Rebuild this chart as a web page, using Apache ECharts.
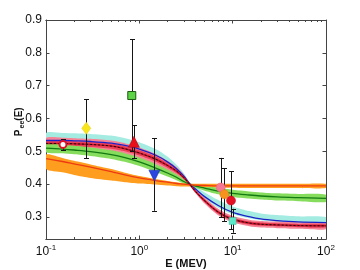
<!DOCTYPE html>
<html>
<head>
<meta charset="utf-8">
<script src="https://cdn.jsdelivr.net/npm/echarts@6/dist/echarts.min.js"></script>
<style>
html,body{margin:0;padding:0;background:#fff;}
#c{width:360px;height:270px;}
</style>
</head>
<body>
<div id="c"></div>
<script>
// ---------- data ----------
const energies = [0.1, 0.15, 0.2, 0.3, 0.5, 0.7, 1, 1.5, 2, 2.5, 3, 3.5, 4, 5, 7, 10, 15, 20, 30, 50, 100];

const redMid  = [0.524,0.524,0.523,0.521,0.516,0.508,0.495,0.476,0.457,0.440,0.420,0.398,0.378,0.350,0.315,0.293,0.282,0.278,0.276,0.274,0.273];
const redHi   = [0.541,0.541,0.540,0.538,0.533,0.525,0.512,0.492,0.471,0.452,0.429,0.402,0.384,0.359,0.325,0.303,0.292,0.288,0.286,0.284,0.283];
const redLo   = [0.507,0.507,0.506,0.504,0.499,0.491,0.478,0.460,0.443,0.428,0.411,0.394,0.372,0.341,0.305,0.283,0.272,0.268,0.266,0.264,0.263];
const redInHi = [0.532,0.532,0.531,0.529,0.524,0.516,0.503,0.484,0.464,0.446,0.424,0.400,0.381,0.354,0.320,0.298,0.287,0.283,0.281,0.279,0.278];
const redInLo = [0.516,0.516,0.515,0.513,0.508,0.500,0.487,0.468,0.450,0.434,0.416,0.396,0.375,0.346,0.310,0.288,0.277,0.273,0.271,0.269,0.268];

const blueMid = [0.533,0.533,0.532,0.530,0.525,0.518,0.507,0.488,0.468,0.447,0.424,0.400,0.385,0.362,0.335,0.314,0.301,0.294,0.289,0.285,0.283];
const cyanHi  = [0.556,0.556,0.555,0.553,0.548,0.540,0.528,0.507,0.484,0.459,0.433,0.404,0.393,0.375,0.352,0.332,0.318,0.311,0.306,0.302,0.300];
const cyanLo  = [0.511,0.511,0.510,0.508,0.503,0.497,0.487,0.470,0.452,0.435,0.415,0.396,0.379,0.355,0.328,0.308,0.296,0.290,0.285,0.282,0.280];

const greenMid = [0.510,0.507,0.504,0.499,0.490,0.481,0.468,0.449,0.434,0.421,0.408,0.399,0.394,0.388,0.379,0.372,0.367,0.364,0.361,0.359,0.357];
const greenHi  = [0.523,0.520,0.517,0.512,0.503,0.494,0.481,0.461,0.445,0.430,0.414,0.402,0.399,0.396,0.389,0.383,0.378,0.375,0.372,0.370,0.368];
const greenLo  = [0.497,0.494,0.491,0.486,0.477,0.468,0.455,0.437,0.423,0.412,0.402,0.396,0.389,0.380,0.369,0.361,0.356,0.353,0.350,0.348,0.346];

const orangeMid = [0.478,0.469,0.462,0.452,0.438,0.428,0.419,0.411,0.406,0.402,0.400,0.398,0.397,0.396,0.395,0.395,0.395,0.395,0.395,0.395,0.395];
const orangeHi  = [0.490,0.480,0.471,0.460,0.446,0.435,0.425,0.416,0.410,0.406,0.403,0.401,0.401,0.401,0.401,0.401,0.401,0.401,0.401,0.401,0.401];
const orangeLo  = [0.446,0.436,0.428,0.419,0.411,0.406,0.402,0.399,0.396,0.394,0.393,0.393,0.392,0.391,0.390,0.389,0.388,0.388,0.388,0.388,0.388];

// measured points: energy, value, error low, error high
const ptE    = [0.152, 0.27, 0.83, 0.875, 1.45, 7.45, 8.15, 9.6, 10.0];
const ptVal  = [0.521, 0.570, 0.670, 0.529, 0.426, 0.390, 0.369, 0.350, 0.288];
const ptLo   = [0.505, 0.479, 0.500, 0.479, 0.319, 0.299, 0.288, 0.262, 0.252];
const ptHi   = [0.537, 0.659, 0.841, 0.579, 0.540, 0.480, 0.448, 0.439, 0.325];

const yTicks = [0.3, 0.4, 0.5, 0.6, 0.7, 0.8, 0.9];
const xMajor = [0.1, 1, 10, 100];
const xMinor = [0.2,0.3,0.4,0.5,0.6,0.7,0.8,0.9,2,3,4,5,6,7,8,9,20,30,40,50,60,70,80,90];
const xTitle = 'E (MEV)';

// ---------- styles ----------
const ptStyle = [
  {symbol:'circle', size:7, color:'#ffffff', border:'#e0102a', bw:2, rot:0},
  {symbol:'diamond', size:[9,12], color:'#f8e61c', border:'#e8c800', bw:0.5, rot:0},
  {symbol:'rect', size:8, color:'#5cd446', border:'#1c5a10', bw:1, rot:0},
  {symbol:'triangle', size:11, color:'#e8101a', border:'#b00010', bw:0.5, rot:0},
  {symbol:'triangle', size:11, color:'#2a46e0', border:'#1a2ab0', bw:0.5, rot:180},
  {symbol:'circle', size:9, color:'#f47896', border:'#e86080', bw:0.5, rot:0},
  {symbol:'circle', size:9, color:'#f8921e', border:'#e07a10', bw:0.5, rot:0},
  {symbol:'circle', size:9, color:'#e41024', border:'#b0001a', bw:0.5, rot:0},
  {symbol:'rect', size:7, color:'#5ae8c8', border:'#30b898', bw:0.5, rot:0}
];

const FONT = 'Liberation Sans, Arial, Helvetica, sans-serif';
const AXC = '#444';

function bandSeries(hi, lo, color, z) {
  const rows = energies.map((e, i) => [e, lo[i], hi[i]]);
  return {
    type: 'custom', xAxisIndex: 0, yAxisIndex: 0, z: z, clip: true, silent: true,
    data: rows,
    encode: {x: 0, y: [1, 2]},
    renderItem: function (params, api) {
      if (params.dataIndex !== 0) return null;
      const pts = [];
      for (let i = 0; i < rows.length; i++) pts.push(api.coord([rows[i][0], rows[i][2]]));
      for (let i = rows.length - 1; i >= 0; i--) pts.push(api.coord([rows[i][0], rows[i][1]]));
      return {type: 'polygon', shape: {points: pts, smooth: 0.25}, style: {fill: color, stroke: null}};
    }
  };
}
function lineSeries(vals, color, width, z, dash) {
  return {
    type: 'line', xAxisIndex: 0, yAxisIndex: 0, z: z, smooth: 0.35, showSymbol: false, silent: true,
    data: energies.map((e, i) => [e, vals[i]]),
    lineStyle: {color: color, width: width, type: dash || 'solid'}
  };
}

const errRows = ptE.map((e, i) => [e, ptVal[i], ptLo[i], ptHi[i]]);
const errSeries = {
  type: 'custom', xAxisIndex: 0, yAxisIndex: 0, z: 20, silent: true,
  data: errRows,
  encode: {x: 0, y: [1, 2, 3]},
  renderItem: function (params, api) {
    const x = api.value(0), lo = api.value(2), hi = api.value(3);
    const a = api.coord([x, hi]), b = api.coord([x, lo]);
    const px = Math.round(a[0]) + 0.5;
    const cw = 2.5;
    const st = {stroke: '#151515', lineWidth: 1};
    return {type: 'group', children: [
      {type: 'line', shape: {x1: px, y1: a[1], x2: px, y2: b[1]}, style: st},
      {type: 'line', shape: {x1: px - cw, y1: Math.round(a[1]) + 0.5, x2: px + cw, y2: Math.round(a[1]) + 0.5}, style: st},
      {type: 'line', shape: {x1: px - cw, y1: Math.round(b[1]) + 0.5, x2: px + cw, y2: Math.round(b[1]) + 0.5}, style: st}
    ]};
  }
};
const markerSeries = {
  type: 'scatter', xAxisIndex: 0, yAxisIndex: 0, z: 30, silent: true,
  data: ptE.map((e, i) => ({
    value: [e, ptVal[i]],
    symbol: ptStyle[i].symbol, symbolSize: ptStyle[i].size, symbolRotate: ptStyle[i].rot,
    itemStyle: {color: ptStyle[i].color, borderColor: ptStyle[i].border, borderWidth: ptStyle[i].bw, opacity: 1}
  }))
};

const gridRect = {left: 46, right: 34, top: 20, bottom: 31};
function xAx(grid, pos, ticks, len, labels) {
  const ax = {
    type: 'log', logBase: 10, min: 0.1, max: 100, gridIndex: grid, position: pos,
    axisLine: {show: true, onZero: false, lineStyle: {color: AXC, width: 1}},
    axisTick: {show: true, inside: true, length: len, customValues: ticks, lineStyle: {color: AXC, width: 1}},
    axisLabel: {show: false},
    splitLine: {show: false}, minorTick: {show: false}
  };
  if (labels) {
    ax.axisLabel = {
      show: true, customValues: xMajor, margin: 5,
      formatter: function (v) { return '{b|10}{s|' + Math.round(Math.log10(v)) + '}'; },
      rich: {
        b: {fontSize: 12, fontFamily: FONT, color: '#111', lineHeight: 14},
        s: {fontSize: 8, fontFamily: FONT, color: '#111', padding: [0, 0, 8, 0]}
      }
    };
  }
  return ax;
}
function yAx(grid, pos, labels, show) {
  return {
    type: 'value', min: 0.233, max: 0.9, gridIndex: grid, position: pos, show: show,
    axisLine: {show: true, lineStyle: {color: AXC, width: 1}},
    axisTick: {show: true, inside: true, length: 3.5, customValues: yTicks, lineStyle: {color: AXC, width: 1}},
    axisLabel: labels ? {show: true, customValues: yTicks, margin: 4, fontSize: 12, fontFamily: FONT, color: '#111',
      formatter: v => v.toFixed(1)} : {show: false},
    splitLine: {show: false}
  };
}

const chart = echarts.init(document.getElementById('c'), null, {renderer: 'canvas'});
chart.setOption({
  animation: false,
  backgroundColor: '#ffffff',
  grid: [Object.assign({}, gridRect), Object.assign({}, gridRect)],
  xAxis: [
    xAx(0, 'bottom', xMajor, 3.5, true),
    xAx(0, 'top', xMajor, 3.5, false),
    xAx(1, 'bottom', xMinor, 2, false),
    xAx(1, 'top', xMinor, 2, false)
  ],
  yAxis: [
    yAx(0, 'left', true, true),
    yAx(0, 'right', false, true),
    yAx(1, 'left', false, false)
  ],
  series: [
    bandSeries(cyanHi, cyanLo, '#a4ebe2', 2),
    bandSeries(redHi, redLo, '#f58496', 3),
    bandSeries(redInHi, redInLo, '#ec4058', 3.5),
    bandSeries(greenHi, greenLo, '#86dc5c', 4),
    bandSeries(orangeHi, orangeLo, '#ff9d1e', 5),
    lineSeries(blueMid, '#1c22c8', 1.3, 10),
    lineSeries(greenMid, '#127a12', 1.3, 10),
    lineSeries(orangeMid, '#ee3a12', 1.3, 10),
    lineSeries(redMid, '#c80a24', 1.5, 11),
    lineSeries(redMid, '#111111', 1, 12, [2, 2]),
    errSeries,
    markerSeries
  ],
  graphic: [
    {type: 'text', x: 186, y: 264,
     style: {text: xTitle, font: 'bold 11px ' + FONT, fill: '#111', align: 'center', verticalAlign: 'middle'}},
    {type: 'text', x: 19, y: 133, rotation: Math.PI / 2,
     style: {text: 'P', font: 'bold 10px ' + FONT, fill: '#111', align: 'center', verticalAlign: 'middle'}},
    {type: 'text', x: 22, y: 124.5, rotation: Math.PI / 2,
     style: {text: 'ee', font: 'bold 7px ' + FONT, fill: '#111', align: 'center', verticalAlign: 'middle'}},
    {type: 'text', x: 19, y: 114, rotation: Math.PI / 2,
     style: {text: '(E)', font: 'bold 10px ' + FONT, fill: '#111', align: 'center', verticalAlign: 'middle'}}
  ]
});
</script>
</body>
</html>
